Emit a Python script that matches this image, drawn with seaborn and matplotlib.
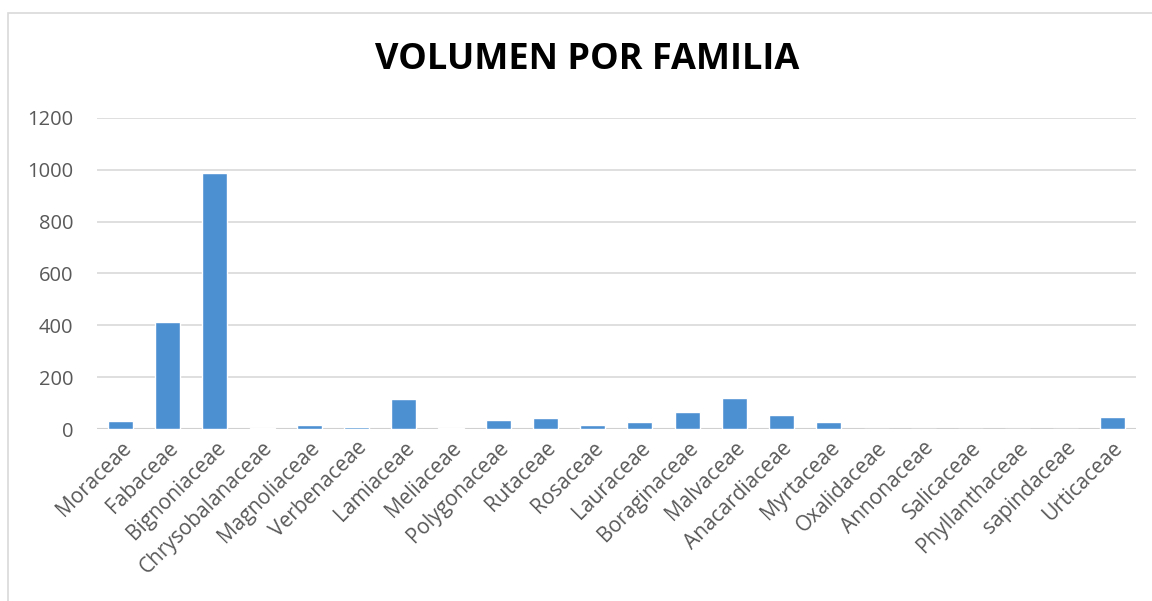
import pandas as pd
import seaborn as sns
import matplotlib.pyplot as plt
from matplotlib.patches import Rectangle

# Values
familias = ["Moraceae", "Fabaceae", "Bignoniaceae", "Chrysobalanaceae", "Magnoliaceae",
            "Verbenaceae", "Lamiaceae", "Meliaceae", "Polygonaceae", "Rutaceae",
            "Rosaceae", "Lauraceae", "Boraginaceae", "Malvaceae", "Anacardiaceae",
            "Myrtaceae", "Oxalidaceae", "Annonaceae", "Salicaceae", "Phyllanthaceae",
            "sapindaceae", "Urticaceae"]
volumen = [32, 412, 986, 5, 16, 9, 118, 4, 36, 43, 16, 28, 67, 121, 55, 28,
           0, 0, 0, 0, 0, 47]

df = pd.DataFrame({"Familia": familias, "Volumen": volumen})

sns.set_style("white")
plt.rcParams["font.family"] = ["Open Sans", "DejaVu Sans"]

fig = plt.figure(figsize=(11.52, 6.01), dpi=100)
ax = fig.add_axes([0.084, 0.286, 0.902, 0.518])

sns.barplot(data=df, x="Familia", y="Volumen", color="#4D90D1", width=0.53,
            saturation=1, ax=ax, zorder=3)

ax.set_ylim(0, 1200)
ax.set_yticks(range(0, 1201, 200))
ax.yaxis.grid(True, color="#D9D9D9", linewidth=1.2, zorder=0)
ax.set_axisbelow(True)
for s in ax.spines.values():
    s.set_visible(False)
ax.axhline(0, color="#D0D0D0", linewidth=1.5, zorder=2)

ax.set_xlabel("")
ax.set_ylabel("")
ax.tick_params(axis="y", length=0, labelsize=14.5, colors="#595959", pad=17)
ax.tick_params(axis="x", length=0, labelsize=15, colors="#595959", pad=6)
plt.setp(ax.get_xticklabels(), rotation=45, ha="right", rotation_mode="anchor")
ax.set_xlim(-0.5, len(familias) - 0.5)

fig.text(0.51, 0.90, "VOLUMEN POR FAMILIA", ha="center", va="center",
         fontsize=26, fontweight="bold", color="black")

fig.patches.append(Rectangle((0.007, -0.01), 1.2, 0.988, transform=fig.transFigure,
                             fill=False, edgecolor="#D9D9D9", linewidth=1.2))

fig.savefig("out.png", dpi=100)
